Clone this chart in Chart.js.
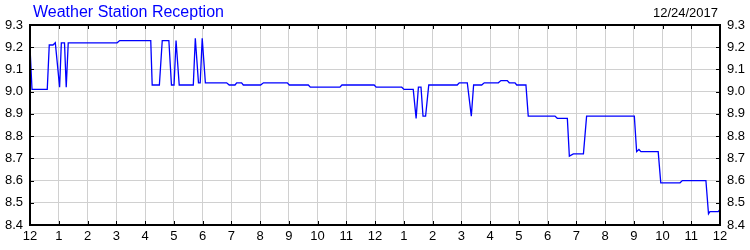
<!DOCTYPE html>
<html>
<head>
<meta charset="utf-8">
<script src="https://cdn.jsdelivr.net/npm/chart.js@4/dist/chart.umd.min.js"></script>
<style>
html,body{margin:0;padding:0;background:#fff;}
#wrap{width:750px;height:250px;position:relative;}
</style>
</head>
<body>
<div id="wrap"><canvas id="c" width="750" height="250"></canvas></div>
<script>
const chartTitle = 'Weather Station Reception';
const chartDate = '12/24/2017';
const xTickLabels = ['12','1','2','3','4','5','6','7','8','9','10','11','12','1','2','3','4','5','6','7','8','9','10','11','12'];
const hours = [0,0.07,0.6,0.67,0.8,0.88,1.03,1.09,1.2,1.26,1.33,3.03,3.12,4.2,4.25,4.5,4.6,4.83,4.92,5.01,5.08,5.19,5.68,5.75,5.86,5.92,5.99,6.1,6.84,6.93,7.13,7.19,7.36,7.42,8.02,8.12,8.95,9.02,9.68,9.75,10.78,10.85,11.97,12.04,12.93,13.01,13.33,13.43,13.51,13.6,13.67,13.76,13.87,14.86,14.93,15.21,15.35,15.43,15.71,15.8,16.29,16.38,16.6,16.67,16.87,16.93,17.25,17.33,18.26,18.34,18.69,18.76,18.9,19.25,19.36,21.02,21.1,21.18,21.25,21.85,21.94,22.61,22.69,23.51,23.6,23.65,23.94,24.0];
const values = [9.20,9.01,9.01,9.21,9.21,9.22,9.02,9.22,9.22,9.02,9.22,9.22,9.23,9.23,9.03,9.03,9.23,9.23,9.03,9.03,9.23,9.03,9.03,9.24,9.04,9.04,9.24,9.04,9.04,9.03,9.03,9.04,9.04,9.03,9.03,9.04,9.04,9.03,9.03,9.02,9.02,9.03,9.03,9.02,9.02,9.01,9.01,8.88,9.02,9.02,8.89,8.89,9.03,9.03,9.04,9.04,8.89,9.03,9.03,9.04,9.04,9.05,9.05,9.04,9.04,9.03,9.03,8.89,8.89,8.88,8.88,8.71,8.72,8.72,8.89,8.89,8.73,8.74,8.73,8.73,8.59,8.59,8.60,8.60,8.45,8.46,8.46,8.47];
const yMin = 8.4, yMax = 9.3;

const FONT = "'Liberation Sans', Arial, sans-serif";
const points = hours.map((h, i) => ({x: h, y: values[i]}));

const framePlugin = {
  id: 'frame',
  afterDraw(chart) {
    const ctx = chart.ctx;
    const a = chart.chartArea;
    const xs = chart.scales.x, ys = chart.scales.y;
    ctx.save();
    ctx.strokeStyle = '#000';
    ctx.lineWidth = 1;
    ctx.beginPath();
    xs.ticks.forEach(t => {
      const px = Math.round(xs.getPixelForValue(t.value)) + 0.5;
      ctx.moveTo(px, a.bottom); ctx.lineTo(px, a.bottom - 4);
      ctx.moveTo(px, a.top); ctx.lineTo(px, a.top + 4);
    });
    ys.ticks.forEach(t => {
      const py = Math.round(ys.getPixelForValue(t.value)) + 0.5;
      ctx.moveTo(a.left, py); ctx.lineTo(a.left + 4, py);
      ctx.moveTo(a.right, py); ctx.lineTo(a.right - 4, py);
    });
    ctx.stroke();
    ctx.lineWidth = 2;
    ctx.strokeRect(Math.round(a.left), Math.round(a.top), Math.round(a.right - a.left), Math.round(a.bottom - a.top));
    ctx.textBaseline = 'alphabetic';
    ctx.fillStyle = '#0000ff';
    ctx.font = '16px ' + FONT;
    ctx.textAlign = 'left';
    ctx.fillText(chartTitle, 33, 17);
    ctx.fillStyle = '#000';
    ctx.font = '13px ' + FONT;
    ctx.textAlign = 'right';
    ctx.fillText(chartDate, 718, 17);
    ctx.restore();
  }
};

new Chart(document.getElementById('c'), {
  type: 'line',
  data: {
    datasets: [{
      data: points,
      borderColor: '#0000ff',
      borderWidth: 1.3,
      pointRadius: 0,
      tension: 0,
      fill: false
    }]
  },
  options: {
    responsive: false,
    animation: false,
    layout: {padding: {top: 25, left: 0, right: 0, bottom: 0}},
    plugins: {legend: {display: false}, tooltip: {enabled: false}, title: {display: false}},
    scales: {
      x: {
        type: 'linear', position: 'bottom', min: 0, max: 24,
        afterFit(s) { s.height = 25; },
        afterBuildTicks(s) { s.ticks = xTickLabels.map((_, i) => ({value: i})); },
        ticks: {
          stepSize: 1, autoSkip: false, maxRotation: 0, padding: 4,
          color: '#000', font: {family: FONT, size: 13},
          callback: (v) => xTickLabels[v]
        },
        grid: {color: '#d0d0d0', lineWidth: 1, drawTicks: false},
        border: {display: false}
      },
      y: {
        type: 'linear', position: 'left', min: yMin, max: yMax,
        afterFit(s) { s.width = 30; },
        ticks: {stepSize: 0.1, padding: 7, color: '#000', font: {family: FONT, size: 13},
          callback: (v) => Number(v).toFixed(1)},
        grid: {color: '#d0d0d0', lineWidth: 1, drawTicks: false},
        border: {display: false}
      },
      y2: {
        type: 'linear', position: 'right', min: yMin, max: yMax,
        afterFit(s) { s.width = 30; },
        ticks: {stepSize: 0.1, padding: 7, color: '#000', font: {family: FONT, size: 13},
          callback: (v) => Number(v).toFixed(1)},
        grid: {display: false, drawTicks: false},
        border: {display: false}
      }
    }
  },
  plugins: [framePlugin]
});
</script>
</body>
</html>
